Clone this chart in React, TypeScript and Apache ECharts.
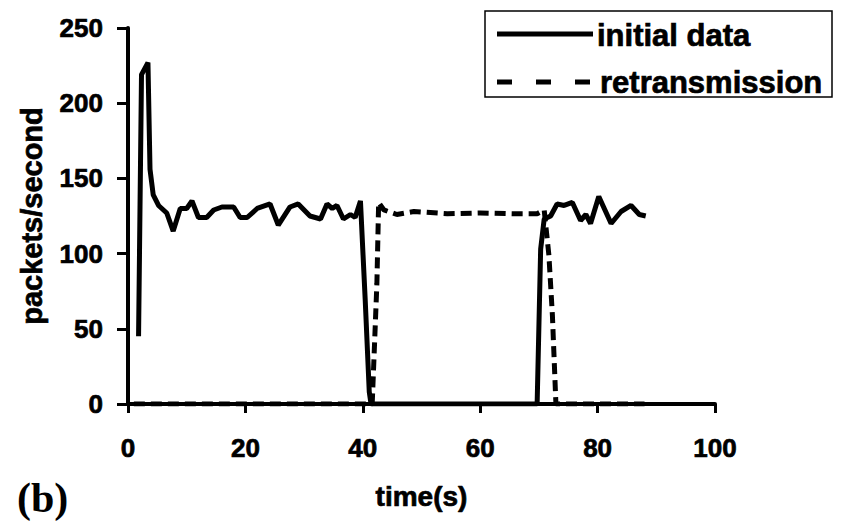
import React, { useEffect, useRef } from "react";
import * as echarts from "echarts";

// initial data (solid)
const initialTime = [1.8, 2.3, 3.4, 3.75, 4.3, 5.2, 6.6, 7.7, 8.9, 10, 10.9, 12, 13.4, 14.6, 16, 18, 19.1, 20.3, 22, 24.2, 25.6, 27.6, 29, 31, 32.8, 33.9, 34.8, 35.6, 36.7, 37.9, 38.7, 39.6, 40.4, 41.1, 41.4, 69.7, 70.3, 70.9, 72, 73.1, 74.3, 75.7, 77.1, 78, 78.8, 80.2, 82.3, 84, 85.7, 87.1, 88.2];
const initialValue = [45, 219, 227, 156, 139, 132, 127, 115, 130, 130, 135, 124, 124, 129, 131, 131, 124, 124, 130, 133, 119, 131, 133, 125, 123, 133, 130, 132, 123, 126, 124, 135, 70, 8, 0, 0, 103, 123, 125, 133, 132, 134, 122, 126, 120, 138, 120, 128, 132, 126, 125];

// retransmission (dashed)
const retransTime = [1, 41.6, 42.4, 42.7, 43.6, 45.8, 48.7, 54.4, 60, 65.7, 69.7, 70.9, 71.7, 72.3, 72.9, 88];
const retransValue = [0, 0, 80, 134, 129, 126, 128, 126.5, 127, 126.5, 126.5, 129, 99, 59, 0, 0];

const xTicks = { min: 0, max: 100, interval: 20 };
const yTicks = { min: 0, max: 250, interval: 50 };

const seriesNames = ["initial data", "retransmission"];
const xName = "time(s)";
const yName = "packets/second";
const panelLabel = "(b)";

const FONT = '"Liberation Sans", Arial, Helvetica, sans-serif';
const heavy = { textBorderColor: "#000", textBorderWidth: 0.7 };

export default function App() {
  const ref = useRef<HTMLDivElement>(null);
  useEffect(() => {
    if (!ref.current) return;
    const chart = echarts.init(ref.current, undefined, { renderer: "svg" });
    const initData = initialTime.map((t, i) => [t, initialValue[i]]);
    const retData = retransTime.map((t, i) => [t, retransValue[i]]);
    const axisCommon = {
      axisLine: { show: true, lineStyle: { color: "#000", width: 4 } },
      axisTick: { show: true, inside: false, lineStyle: { color: "#000", width: 3 } },
      splitLine: { show: false },
      nameLocation: "middle" as const,
    };
    chart.setOption({
      animation: false,
      backgroundColor: "#fff",
      grid: { left: 128, right: 127, top: 28, bottom: 125, containLabel: false },
      xAxis: {
        type: "value",
        ...xTicks,
        ...axisCommon,
        axisTick: { ...axisCommon.axisTick, length: 9 },
        axisLabel: { color: "#000", fontSize: 26, fontWeight: "bold", fontFamily: FONT, margin: 31, ...heavy },
        name: xName,
        nameGap: 78,
        nameTextStyle: { color: "#000", fontSize: 28, fontWeight: "bold", fontFamily: FONT, ...heavy },
      },
      yAxis: {
        type: "value",
        ...yTicks,
        ...axisCommon,
        axisTick: { ...axisCommon.axisTick, length: 11 },
        axisLabel: { color: "#000", fontSize: 26, fontWeight: "bold", fontFamily: FONT, margin: 25, ...heavy },
        name: yName,
        nameRotate: 90,
        nameGap: 82,
        nameTextStyle: { color: "#000", fontSize: 29, fontWeight: "bold", fontFamily: FONT, ...heavy },
      },
      series: [
        {
          name: seriesNames[1],
          type: "line",
          data: retData,
          showSymbol: false,
          symbol: "none",
          lineStyle: { color: "#000", width: 5, type: [11, 6] },
          z: 2,
        },
        {
          name: seriesNames[0],
          type: "line",
          data: initData,
          showSymbol: false,
          symbol: "none",
          lineStyle: { color: "#000", width: 5 },
          z: 3,
        },
      ],
      graphic: [
        {
          type: "rect",
          shape: { x: 485, y: 11, width: 347, height: 86 },
          style: { fill: "#fff", stroke: "#000", lineWidth: 1.5 },
          z: 10,
        },
        {
          type: "line",
          shape: { x1: 497, y1: 34, x2: 593, y2: 34 },
          style: { stroke: "#000", lineWidth: 5 },
          z: 11,
        },
        {
          type: "text",
          style: { text: seriesNames[0], x: 597, y: 35, fill: "#000", font: `bold 31px ${FONT}`, align: "left", verticalAlign: "middle", stroke: "#000", lineWidth: 0.7 },
          z: 11,
        },
        {
          type: "line",
          shape: { x1: 497, y1: 82, x2: 590, y2: 82 },
          style: { stroke: "#000", lineWidth: 5, lineDash: [15, 24] },
          z: 11,
        },
        {
          type: "text",
          style: { text: seriesNames[1], x: 600, y: 82, fill: "#000", font: `bold 31px ${FONT}`, align: "left", verticalAlign: "middle", stroke: "#000", lineWidth: 0.7 },
          z: 11,
        },
        {
          type: "text",
          style: { text: panelLabel, x: 17, y: 498, fill: "#000", font: `bold 42px "Liberation Serif", "Times New Roman", serif`, align: "left", verticalAlign: "middle" },
          z: 11,
        },
      ],
    });
    return () => chart.dispose();
  }, []);
  return <div ref={ref} style={{ position: "fixed", left: 0, top: 0, width: 842, height: 529, background: "#fff" }} />;
}
